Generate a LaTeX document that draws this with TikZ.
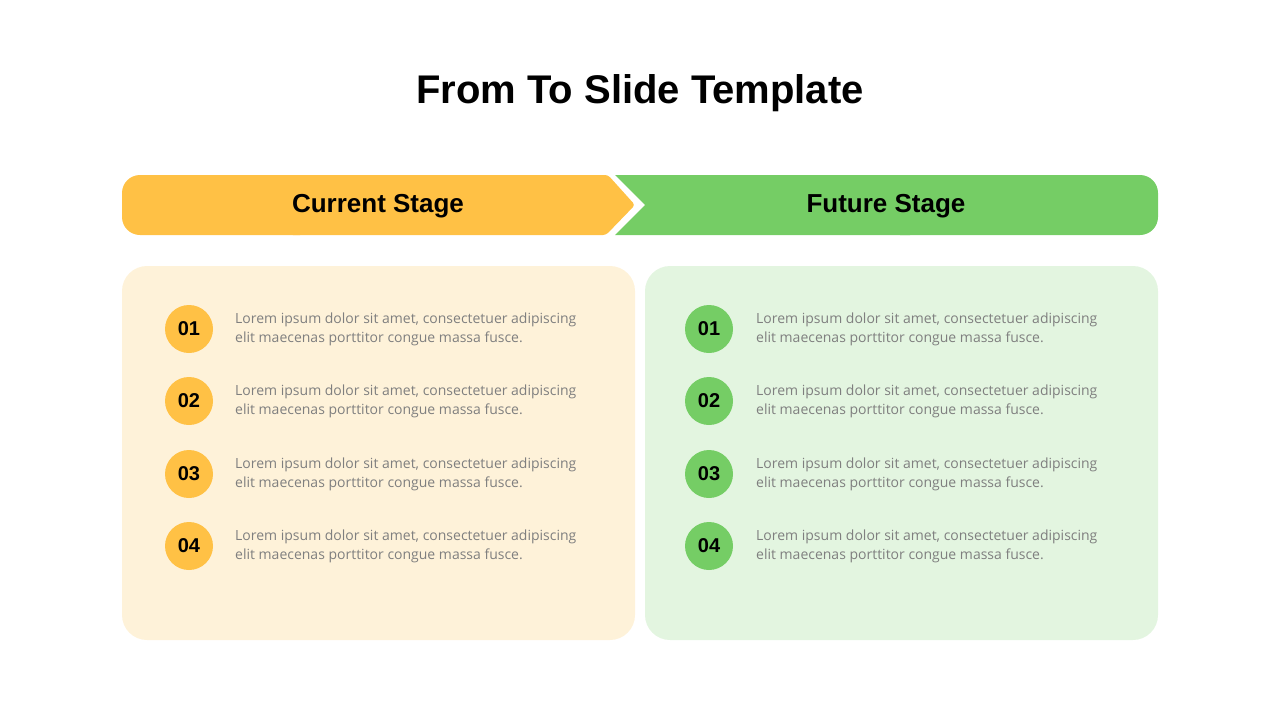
\documentclass[tikz,border=0pt]{standalone}
\usepackage{fontspec}
\setmainfont{Liberation Sans}
\newfontfamily\bodyfont{Open Sans}
\definecolor{yel}{HTML}{FFC145}
\definecolor{grn}{HTML}{75CD65}
\definecolor{lyel}{HTML}{FEF2D9}
\definecolor{lgrn}{HTML}{E3F5E0}
\definecolor{txt}{HTML}{7F7F7F}
\tikzset{
 num/.style={circle,minimum size=48pt,inner sep=0pt,font=\fontsize{20}{24}\selectfont\bfseries},
 body/.style={anchor=west,align=left,text=txt,font=\bodyfont\fontsize{14}{19}\selectfont,inner sep=0pt},
 stagelab/.style={font=\fontsize{26}{30}\selectfont\bfseries}
}
\begin{document}
\begin{tikzpicture}[x=1pt,y=-1pt]
\useasboundingbox (0,0) rectangle (1280,720);
\node[font=\fontsize{40}{46}\selectfont\bfseries] (title) at (640,93) {From To Slide Template};
\fill[yel,rounded corners=18pt] (300,175) -- (122,175) -- (122,235) -- (300,235);
\fill[yel,rounded corners=3pt] (290,175) -- (608,175) -- (635,205) -- (606,235) -- (290,235) -- cycle;
\fill[grn,rounded corners=18pt] (900,175) -- (1158,175) -- (1158,235) -- (900,235);
\fill[grn] (910,175) -- (615,175) -- (645,205) -- (615,235) -- (910,235) -- cycle;
\node[stagelab] (cur) at (378,206) {Current Stage};
\node[stagelab] (fut) at (886,206) {Future Stage};
\fill[lyel,rounded corners=25pt] (122,266) rectangle (635,640);
\fill[lgrn,rounded corners=25pt] (645,266) rectangle (1158,640);
\foreach \n/\y in {01/329,02/401,03/474,04/546}{
 \node[num,fill=yel] (y\n) at (189,\y) {\n};
 \node[body] (ty\n) at (235,\y) {Lorem ipsum dolor sit amet, consectetuer adipiscing\\elit maecenas porttitor congue massa fusce.};
 \node[num,fill=grn] (g\n) at (709,\y) {\n};
 \node[body] (tg\n) at (756,\y) {Lorem ipsum dolor sit amet, consectetuer adipiscing\\elit maecenas porttitor congue massa fusce.};
}
\end{tikzpicture}
\end{document}
